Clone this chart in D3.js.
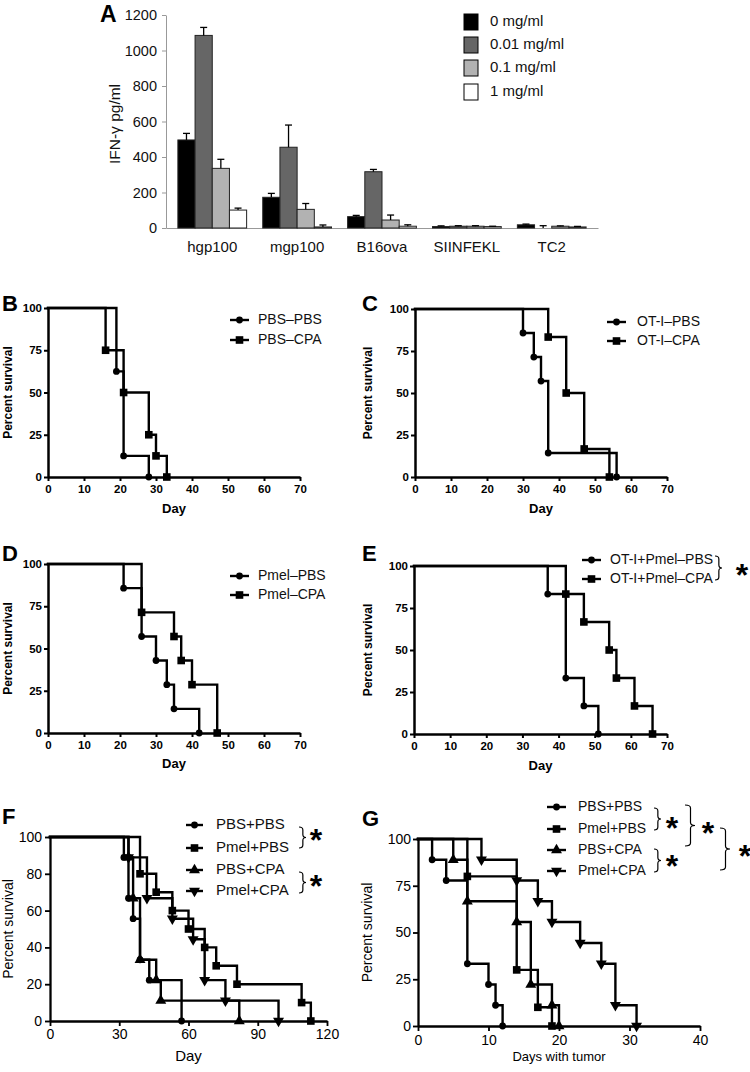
<!DOCTYPE html>
<html><head><meta charset="utf-8">
<script src="https://cdn.jsdelivr.net/npm/d3@7"></script>
<style>body{margin:0;background:#fff} svg{display:block} text{font-family:"Liberation Sans",Arial,sans-serif}</style>
</head><body><svg id="c" width="750" height="1072"></svg>
<script>
// ---------- Panel A data ----------
const aCategories = ["hgp100","mgp100","B16ova","SIINFEKL","TC2"];
const aSeries = ["0 mg/ml","0.01 mg/ml","0.1 mg/ml","1 mg/ml"];
const aTicks = [0,200,400,600,800,1000,1200];
const aMean0   = [496, 173, 64, 8, 18];
const aMean001 = [1085, 455, 317, 10, 0];
const aMean01  = [336, 105, 45, 10, 10];
const aMean1   = [101, 6, 10, 8, 6];
const aErr0    = [533, 195, 71, 12, 22];
const aErr001  = [1130, 580, 330, 13, 13];
const aErr01   = [387, 138, 73, 13, 12];
const aErr1    = [112, 17, 18, 10, 9];

// ---------- Survival data [day, percent] ----------
const bPbsPbs = [[0,100],[19,62.5],[21,12.5],[28,0]];
const bPbsCpa = [[0,100],[16,75],[21,50],[28,25],[30,12.5],[33,0]];
const cOtiPbs = [[0,100],[30,85.7],[33,71.4],[35,57.1],[37,14.3],[56,0]];
const cOtiCpa = [[0,100],[37,83.3],[42,50],[47,16.7],[54,0]];
const dPmelPbs = [[0,100],[21,85.7],[26,57.1],[30,42.9],[33,28.6],[35,14.3],[42,0]];
const dPmelCpa = [[0,100],[26,71.4],[35,57.1],[37,42.9],[40,28.6],[47,0]];
const eOtiPmelPbs = [[0,100],[37,83.3],[42,33.3],[47,16.7],[51,0]];
const eOtiPmelCpa = [[0,100],[42,83.3],[47,66.7],[54,50],[56,33.3],[61,16.7],[66,0]];
const fPbsPbs  = [[0,100],[32,88.9],[34,66.7],[36,55.6],[39,33.3],[43,22.2],[57,0]];
const fPmelPbs = [[0,100],[39,80],[46,70],[53,60],[60,50],[67,40],[72,30],[81,20],[109,10],[113,0]];
const fPbsCpa  = [[0,100],[34,88.9],[36,66.7],[39,33.3],[46,22.2],[48,11.1],[82,0]];
const fPmelCpa = [[0,100],[34,88.9],[42,66.7],[53,55.6],[62,44.4],[67,22.2],[76,11.1],[99,0]];
const gPbsPbs  = [[0,100],[2,88.9],[4,77.8],[7,33.3],[10,22.2],[11,11.1],[12,0]];
const gPmelPbs = [[0,100],[7,80],[14,30],[17,10],[19,0]];
const gPbsCpa  = [[0,100],[5,88.9],[7,66.7],[14,55.6],[16,22.2],[19,11.1],[20,0]];
const gPmelCpa = [[0,100],[9,88.9],[14,77.8],[17,66.7],[19,55.6],[23,44.4],[26,33.3],[28,11.1],[31,0]];

const ticks70 = [0,10,20,30,40,50,60,70];
const ticks25 = [0,25,50,75,100];
const ticksF_x = [0,30,60,90,120];
const ticksF_y = [0,20,40,60,80,100];
const ticksG_x = [0,10,20,30,40];

const svg = d3.select("#c");
const FONT = '"Liberation Sans",Arial,sans-serif';

// ================= Panel A =================
(function(){
  const g = svg.append("g");
  const x = d3.scaleBand().domain(aCategories).range([166,598]).paddingInner(0.19).paddingOuter(0.14);
  const xs = d3.scaleBand().domain(aSeries).range([0, x.bandwidth()]);
  const y = d3.scaleLinear().domain([0,1200]).range([228,15]);
  const colors = ["#000000","#666666","#b2b2b2","#ffffff"];
  const means = [aMean0,aMean001,aMean01,aMean1];
  const errs = [aErr0,aErr001,aErr01,aErr1];

  const ya = g.append("g").attr("transform","translate(166,0)")
    .call(d3.axisLeft(y).tickValues(aTicks).tickSize(4).tickSizeOuter(0).tickPadding(5).tickFormat(d3.format("d")));
  ya.select(".domain").attr("stroke","#999");
  ya.selectAll(".tick line").attr("stroke","#999");
  ya.selectAll("text").attr("font-size",14.5).attr("fill","#111").attr("font-family",FONT);

  const xa = g.append("g").attr("transform","translate(0,228)")
    .call(d3.axisBottom(x).tickSize(0).tickSizeOuter(0).tickPadding(13));
  xa.select(".domain").attr("stroke","#999");
  xa.selectAll("text").attr("font-size",15).attr("fill","#111").attr("font-family",FONT);

  aSeries.forEach((s,i)=>{
    aCategories.forEach((c,j)=>{
      const v = means[i][j], e = errs[i][j];
      const cx = x(c)+xs(s)+xs.bandwidth()/2;
      if (v>0) g.append("rect").attr("x",x(c)+xs(s)).attr("y",y(v))
        .attr("width",xs.bandwidth()).attr("height",y(0)-y(v))
        .attr("fill",colors[i]).attr("stroke","#222").attr("stroke-width",1);
      g.append("line").attr("x1",cx).attr("x2",cx).attr("y1",y(v)).attr("y2",y(e)).attr("stroke","#000").attr("stroke-width",1.3);
      g.append("line").attr("x1",cx-3.5).attr("x2",cx+3.5).attr("y1",y(e)).attr("y2",y(e)).attr("stroke","#000").attr("stroke-width",1.3);
    });
  });

  g.append("text").attr("transform","translate(116,124) rotate(-90)").attr("text-anchor","middle")
    .attr("dominant-baseline","middle").attr("font-size",15.5).attr("fill","#111").text("IFN-γ pg/ml");
  g.append("text").attr("x",100).attr("y",22).attr("font-size",23).attr("font-weight","bold").text("A");

  const ly = [22,45,68,92];
  aSeries.forEach((s,i)=>{
    g.append("rect").attr("x",464).attr("y",ly[i]-8).attr("width",14).attr("height",16)
      .attr("fill",colors[i]).attr("stroke","#000").attr("stroke-width",1);
    g.append("text").attr("x",490).attr("y",ly[i]).attr("dominant-baseline","middle")
      .attr("font-size",15).attr("fill","#111").text(s);
  });
})();

// ================= Survival panels =================
function marker(g, type, cx, cy){
  if (type==="circle") g.append("circle").attr("cx",cx).attr("cy",cy).attr("r",3.4).attr("fill","#000");
  else if (type==="square") g.append("rect").attr("x",cx-3.8).attr("y",cy-3.8).attr("width",7.6).attr("height",7.6).attr("fill","#000");
  else if (type==="up") g.append("path").attr("d",d3.symbol(d3.symbolTriangle,52)()).attr("transform",`translate(${cx},${cy})`).attr("fill","#000");
  else if (type==="down") g.append("path").attr("d",d3.symbol(d3.symbolTriangle,52)()).attr("transform",`translate(${cx},${cy}) rotate(180)`).attr("fill","#000");
}
function brace(g, x, yTop, yBot, w){
  const m=(yTop+yBot)/2, xm=x+w*0.55;
  g.append("path").attr("d",
    `M${x},${yTop} Q${xm},${yTop} ${xm},${yTop+3} L${xm},${m-3} Q${xm},${m} ${x+w},${m} Q${xm},${m} ${xm},${m+3} L${xm},${yBot-3} Q${xm},${yBot} ${x},${yBot}`)
    .attr("fill","none").attr("stroke","#000").attr("stroke-width",1.2);
}
function star(g, cx, cy, size){
  g.append("text").attr("x",cx).attr("y",cy+size*0.56).attr("text-anchor","middle")
    .attr("font-size",size).attr("font-weight","bold").text("*");
}

function km(cfg){
  const g = svg.append("g");
  const x = d3.scaleLinear().domain([0,cfg.xmax]).range([cfg.x0,cfg.x1]);
  const y = d3.scaleLinear().domain([0,100]).range([cfg.y0,cfg.y1]);
  const bold = cfg.bold;
  const fw = bold ? "bold" : "normal";

  cfg.series.forEach(s=>{
    const line = d3.line().x(d=>x(d[0])).y(d=>y(d[1])).curve(d3.curveStepAfter);
    g.append("path").attr("d",line(s.data)).attr("fill","none").attr("stroke","#000")
      .attr("stroke-width",cfg.lw).attr("stroke-linejoin","miter").attr("stroke-linecap","square");
  });

  const xa = g.append("g").attr("transform",`translate(0,${cfg.y0})`)
    .call(d3.axisBottom(x).tickValues(cfg.xticks).tickSize(cfg.tick).tickSizeOuter(0).tickPadding(cfg.xpad).tickFormat(d3.format("d")));
  const ya = g.append("g").attr("transform",`translate(${cfg.x0},0)`)
    .call(d3.axisLeft(y).tickValues(cfg.yticks).tickSize(cfg.tick).tickSizeOuter(0).tickPadding(cfg.ypad).tickFormat(d3.format("d")));
  [xa,ya].forEach(a=>{
    a.select(".domain").attr("stroke","#000").attr("stroke-width",cfg.aw);
    a.selectAll(".tick line").attr("stroke","#000").attr("stroke-width",cfg.aw*0.8);
    a.selectAll("text").attr("font-size",cfg.tf).attr("font-weight",fw).attr("fill","#000").attr("font-family",FONT);
  });

  cfg.series.forEach(s=>{
    s.data.slice(1).forEach(d=>marker(g, s.marker, x(d[0]), y(d[1])));
  });

  g.append("text").attr("x",cfg.lx).attr("y",cfg.ly).attr("font-size",22).attr("font-weight","bold").text(cfg.letter);
  g.append("text").attr("transform",`translate(${cfg.ylx},${(cfg.y0+cfg.y1)/2}) rotate(-90)`)
    .attr("text-anchor","middle").attr("dominant-baseline","middle")
    .attr("font-size",cfg.ylf).attr("font-weight",fw).text("Percent survival");
  g.append("text").attr("x",(cfg.x0+cfg.x1)/2).attr("y",cfg.xly).attr("text-anchor","middle")
    .attr("dominant-baseline","middle").attr("font-size",cfg.xlf).attr("font-weight",fw).text(cfg.xlabel);

  cfg.series.forEach((s,i)=>{
    const ly = cfg.legY[i];
    g.append("line").attr("x1",cfg.legL[0]).attr("x2",cfg.legL[1]).attr("y1",ly).attr("y2",ly)
      .attr("stroke","#000").attr("stroke-width",cfg.lw);
    marker(g, s.marker, (cfg.legL[0]+cfg.legL[1])/2, ly);
    g.append("text").attr("x",cfg.legT).attr("y",ly).attr("dominant-baseline","middle")
      .attr("font-size",cfg.legF).attr("fill","#111").text(s.name);
  });
  if (cfg.extra) cfg.extra(g);
}

const smallCommon = {bold:true, xmax:70, xticks:ticks70, yticks:ticks25, tick:4, xpad:4, ypad:2, tf:11.5,
  lw:2.4, aw:2.5, ylf:12, xlf:13, xlabel:"Day", legF:14};

km(Object.assign({}, smallCommon, {x0:48,x1:300,y0:477,y1:308, letter:"B", lx:2, ly:311, ylx:9, xly:510,
  legL:[230,249], legT:258, legY:[320,340],
  series:[{name:"PBS–PBS",marker:"circle",data:bPbsPbs},{name:"PBS–CPA",marker:"square",data:bPbsCpa}]}));
km(Object.assign({}, smallCommon, {x0:415,x1:667,y0:477,y1:309, letter:"C", lx:362, ly:311, ylx:369, xly:510,
  legL:[607,626], legT:637, legY:[322,341],
  series:[{name:"OT-I–PBS",marker:"circle",data:cOtiPbs},{name:"OT-I–CPA",marker:"square",data:cOtiCpa}]}));
km(Object.assign({}, smallCommon, {x0:48,x1:300,y0:733,y1:564, letter:"D", lx:2, ly:561, ylx:9, xly:765,
  legL:[230,249], legT:258, legY:[576,595],
  series:[{name:"Pmel–PBS",marker:"circle",data:dPmelPbs},{name:"Pmel–CPA",marker:"square",data:dPmelCpa}]}));
km(Object.assign({}, smallCommon, {x0:414,x1:667,y0:734,y1:566, letter:"E", lx:362, ly:561, ylx:369, xly:767,
  legL:[582,601], legT:610, legY:[560,579],
  series:[{name:"OT-I+Pmel–PBS",marker:"circle",data:eOtiPmelPbs},{name:"OT-I+Pmel–CPA",marker:"square",data:eOtiPmelCpa}],
  extra:g=>{ brace(g,715,556,580,7); star(g,742,568,32); }}));

km({bold:false, xmax:120, xticks:ticksF_x, yticks:ticksF_y, tick:5, xpad:3, ypad:3, tf:14, lw:2.4, aw:2.3,
  ylf:14, xlf:15, xlabel:"Day", legF:15,
  x0:50,x1:327,y0:1021,y1:837, letter:"F", lx:2, ly:824, ylx:9, xly:1057,
  legL:[186,203], legT:216, legY:[825,848,870,891],
  series:[{name:"PBS+PBS",marker:"circle",data:fPbsPbs},{name:"Pmel+PBS",marker:"square",data:fPmelPbs},
          {name:"PBS+CPA",marker:"up",data:fPbsCpa},{name:"Pmel+CPA",marker:"down",data:fPmelCpa}],
  extra:g=>{ brace(g,299,827,848,7); star(g,316,833,32); brace(g,299,872,893,7); star(g,316,879,32); }});

km({bold:false, xmax:40, xticks:ticksG_x, yticks:ticks25, tick:5, xpad:4, ypad:2, tf:14, lw:2.4, aw:2.3,
  ylf:14, xlf:13, xlabel:"Days with tumor", legF:14,
  x0:418,x1:700,y0:1026,y1:839, letter:"G", lx:362, ly:826, ylx:368, xly:1058,
  legL:[547,566], legT:578, legY:[807,829,850,871],
  series:[{name:"PBS+PBS",marker:"circle",data:gPbsPbs},{name:"Pmel+PBS",marker:"square",data:gPmelPbs},
          {name:"PBS+CPA",marker:"up",data:gPbsCpa},{name:"Pmel+CPA",marker:"down",data:gPmelCpa}],
  extra:g=>{ brace(g,654,808,830,7); star(g,672,821,32); brace(g,654,849,872,7); star(g,672,859,32);
             brace(g,685,805,846,10); star(g,708,826,32); brace(g,720,828,870,10); star(g,745,849,32); }});
</script></body></html>
